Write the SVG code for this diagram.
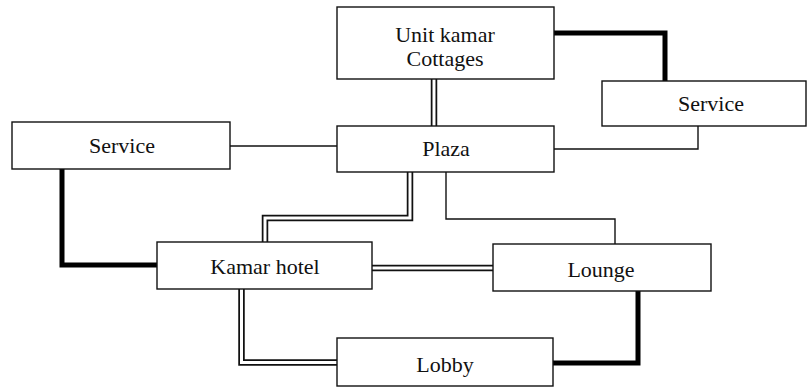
<svg xmlns="http://www.w3.org/2000/svg" width="811" height="388" viewBox="0 0 811 388">
  <style>
    .box { fill: #fff; stroke: #111; stroke-width: 1.4; }
    .lbl { font-family: "Liberation Serif", "Times New Roman", serif; font-size: 22px; fill: #111; text-anchor: middle; }
    .thin { fill: none; stroke: #111; stroke-width: 1.4; }
    .thick { fill: none; stroke: #000; stroke-width: 5; stroke-linejoin: miter; }
    .dbl-outer { fill: none; stroke: #111; stroke-width: 6.5; stroke-linejoin: miter; }
    .dbl-inner { fill: none; stroke: #fff; stroke-width: 3; stroke-linejoin: miter; }
  </style>

  <g id="connectors">
    <!-- single links -->
    <path class="thin" d="M230,146 H337"/>
    <path class="thin" d="M554,149 H698 V126"/>
    <path class="thin" d="M446,172 V219 H615 V244"/>
    <!-- heavy links -->
    <path class="thick" d="M554,33 H665 V81"/>
    <path class="thick" d="M62,169 V265 H157"/>
    <path class="thick" d="M638,291 V363 H553"/>
    <!-- double links -->
    <path class="dbl-outer" d="M434,79 V126"/>
    <path class="dbl-outer" d="M410,172 V218 H265 V242"/>
    <path class="dbl-outer" d="M372,268 H493"/>
    <path class="dbl-outer" d="M241.5,289 V362.5 H337"/>
    <path class="dbl-inner" d="M434,78 V127"/>
    <path class="dbl-inner" d="M410,171 V218 H265 V243"/>
    <path class="dbl-inner" d="M371,268 H494"/>
    <path class="dbl-inner" d="M241.5,288 V362.5 H338"/>
  </g>

  <g id="unit-kamar">
    <rect class="box" x="337" y="7" width="217" height="72"/>
    <text class="lbl" x="445" y="42">Unit kamar</text>
    <text class="lbl" x="445" y="66">Cottages</text>
  </g>
  <g id="service-right">
    <rect class="box" x="602" y="81" width="204" height="45"/>
    <text class="lbl" x="711" y="111">Service</text>
  </g>
  <g id="service-left">
    <rect class="box" x="12" y="122" width="218" height="47"/>
    <text class="lbl" x="122" y="153">Service</text>
  </g>
  <g id="plaza">
    <rect class="box" x="337" y="126" width="217" height="46"/>
    <text class="lbl" x="446" y="156">Plaza</text>
  </g>
  <g id="kamar-hotel">
    <rect class="box" x="157" y="242" width="215" height="47"/>
    <text class="lbl" x="265" y="274">Kamar hotel</text>
  </g>
  <g id="lounge">
    <rect class="box" x="493" y="244" width="218" height="47"/>
    <text class="lbl" x="601" y="277">Lounge</text>
  </g>
  <g id="lobby">
    <rect class="box" x="337" y="338" width="216" height="48"/>
    <text class="lbl" x="445" y="372">Lobby</text>
  </g>
</svg>
